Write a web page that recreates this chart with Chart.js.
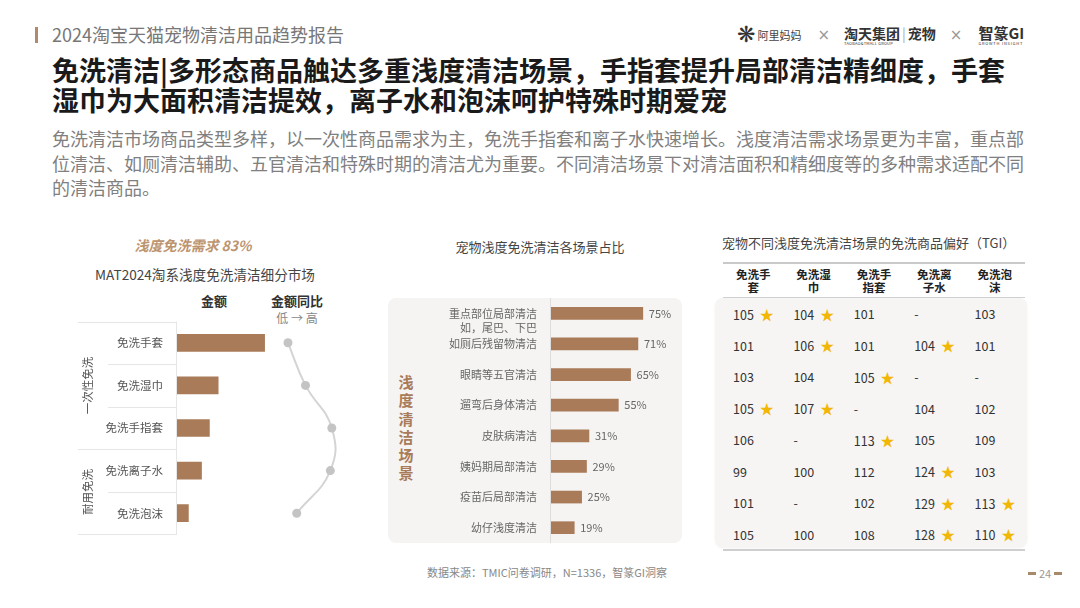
<!DOCTYPE html>
<html>
<head>
<meta charset="utf-8">
<script src="https://cdn.jsdelivr.net/npm/chart.js@4.4.1/dist/chart.umd.min.js"></script>
<style>
  html,body{margin:0;padding:0;background:#fff;}
  body{width:1080px;height:608px;position:relative;overflow:hidden;font-family:"Noto Sans CJK SC","Noto Sans",sans-serif;}
  .abs{position:absolute;white-space:nowrap;}
  #hdrbar{left:35px;top:27px;width:2.5px;height:16px;background:#b08a6a;}
  #hdr{left:52px;top:22px;font-size:18px;line-height:24px;color:#777;}
  #title{left:52px;top:55px;font-size:27px;line-height:30px;font-weight:700;color:#1a1a1a;}
  #sub{left:52px;top:126px;font-size:18px;line-height:24.5px;color:#808080;}
  .c{transform:translateX(-50%);}
  #t83{left:193px;top:236px;font-size:14px;line-height:19px;font-style:italic;font-weight:700;color:#bc946f;}
  #tmat{left:205px;top:265px;font-size:13.6px;line-height:18px;color:#444;}
  #tamt{left:214px;top:292px;font-size:13px;line-height:18px;font-weight:700;color:#333;}
  #tyoy{left:297px;top:292px;font-size:13px;line-height:18px;font-weight:700;color:#333;}
  #tlh{left:297px;top:310px;font-size:12px;line-height:16px;color:#888;}
  #tmid{left:540px;top:238px;font-size:13px;line-height:18px;color:#444;}
  #midbg{left:388px;top:298px;width:294px;height:245px;background:#f5f4f3;border-radius:8px;}
  #vlab{left:398px;top:373px;width:16px;font-size:15px;line-height:18.3px;font-weight:700;color:#a97b59;white-space:normal;word-break:break-all;text-align:center;}
  #tright{left:722px;top:234px;font-size:13px;line-height:18px;color:#444;}
  #tblbg{left:715px;top:298px;width:312px;height:249px;background:#f6f5f4;border-radius:8px;box-shadow:0 1px 3px rgba(0,0,0,0.06);}
  #ltop{left:723px;top:262px;width:302px;height:2px;background:#c9c9c9;}
  #lmid{left:723px;top:297px;width:302px;height:1px;background:#cfcfcf;}
  #lbot{left:723px;top:549px;width:302px;height:2px;background:#cfcfcf;}
  #tbl{left:723px;top:263px;width:302px;}
  .hrow{display:flex;height:35px;align-items:center;}
  .hcell{width:20%;text-align:center;font-size:11.5px;line-height:13px;font-weight:700;color:#222;}
  .brow{display:flex;height:31.5px;align-items:center;}
  .bcell{width:20%;box-sizing:border-box;padding-left:10px;font-size:12.5px;color:#333;}
  .star{color:#f2b705;font-size:14px;margin-left:6px;}
  #foot{left:427px;top:564px;font-size:11px;line-height:16px;color:#888;}
  #pg{left:1025px;top:565px;font-size:11px;line-height:16px;color:#999;display:flex;align-items:center;}
  .pgbar{display:inline-block;width:8px;height:3px;background:#a88a6a;margin:0 3px;}
  #logo{left:737px;top:24px;display:flex;align-items:center;color:#333;}
</style>
</head>
<body>
<div class="abs" id="hdrbar"></div>
<div class="abs" id="hdr">2024淘宝天猫宠物清洁用品趋势报告</div>

<div class="abs" id="logo">
  <span style="font-family:'DejaVu Sans';font-size:22px;color:#333;line-height:22px;">❋</span>
  <span style="font-size:11px;margin-left:2px;color:#444;">阿里妈妈</span>
  <span style="font-size:15px;color:#999;margin-left:16px;font-family:'DejaVu Sans';">×</span>
  <span style="display:inline-flex;flex-direction:column;margin-left:14px;align-items:flex-start;">
    <span style="font-size:14px;font-weight:700;line-height:16px;">淘天集团<span style="color:#aaa;font-weight:400;margin:0 2px;">|</span>宠物</span>
    <span style="font-size:4px;line-height:5px;letter-spacing:0.2px;">TAOBAO&amp;TMALL GROUP</span>
  </span>
  <span style="font-size:15px;color:#999;margin-left:14px;font-family:'DejaVu Sans';">×</span>
  <span style="display:inline-flex;flex-direction:column;margin-left:16px;align-items:flex-start;">
    <span style="font-size:15px;font-weight:700;line-height:17px;">智篆GI</span>
    <span style="font-size:4px;line-height:5px;letter-spacing:0.8px;">GROWTH INSIGHT</span>
  </span>
</div>

<div class="abs" id="title">免洗清洁|多形态商品触达多重浅度清洁场景，手指套提升局部清洁精细度，手套<br>湿巾为大面积清洁提效，离子水和泡沫呵护特殊时期爱宠</div>
<div class="abs" id="sub">免洗清洁市场商品类型多样，以一次性商品需求为主，免洗手指套和离子水快速增长。浅度清洁需求场景更为丰富，重点部<br>位清洁、如厕清洁辅助、五官清洁和特殊时期的清洁尤为重要。不同清洁场景下对清洁面积和精细度等的多种需求适配不同<br>的清洁商品。</div>

<!-- left panel -->
<div class="abs c" id="t83">浅度免洗需求 83%</div>
<div class="abs c" id="tmat">MAT2024淘系浅度免洗清洁细分市场</div>
<div class="abs c" id="tamt">金额</div>
<div class="abs c" id="tyoy">金额同比</div>
<div class="abs c" id="tlh">低 → 高</div>
<div class="abs" style="left:70px;top:317px;width:277px;height:222px;"><canvas id="c1" width="277" height="222"></canvas></div>

<!-- middle panel -->
<div class="abs c" id="tmid">宠物浅度免洗清洁各场景占比</div>
<div class="abs" id="midbg"></div>
<div class="abs" id="vlab">浅度清洁场景</div>
<div class="abs" style="left:388px;top:298px;width:294px;height:245px;"><canvas id="c2" width="294" height="245"></canvas></div>

<!-- right table -->
<div class="abs" id="tright">宠物不同浅度免洗清洁场景的免洗商品偏好（TGI）</div>
<div class="abs" id="tblbg"></div>
<div class="abs" id="ltop"></div>
<div class="abs" id="lmid"></div>
<div class="abs" id="lbot"></div>
<div class="abs" id="tbl"></div>

<div class="abs" id="foot">数据来源：TMIC问卷调研，N=1336，智篆GI洞察</div>
<div class="abs" id="pg"><span class="pgbar"></span>24<span class="pgbar"></span></div>

<script>
// ---------- data ----------
const segLabels = ['免洗手套','免洗湿巾','免洗手指套','免洗离子水','免洗泡沫'];
const segAmountIndex = [100, 47, 37, 28, 13];      // relative sales amount (largest = 100)
const segGrowthIndex = [1.0, 2.2, 4.0, 3.9, 1.6];  // relative YoY growth, low -> high
const groupNames = ['一次性免洗','耐用免洗'];
const groupSizes = [3, 2];

const sceneLabels = [['重点部位局部清洁','如，尾巴、下巴'],'如厕后残留物清洁','眼睛等五官清洁','遛弯后身体清洁','皮肤病清洁','姨妈期局部清洁','疫苗后局部清洁','幼仔浅度清洁'];
const sceneShare = [75, 71, 65, 55, 31, 29, 25, 19];

const tgiHeaders = [['免洗手','套'],['免洗湿','巾'],['免洗手','指套'],['免洗离','子水'],['免洗泡','沫']];
const tgiValues = [
  ['105','104','101','-','103'],
  ['101','106','101','104','101'],
  ['103','104','105','-','-'],
  ['105','107','-','104','102'],
  ['106','-','113','105','109'],
  ['99','100','112','124','103'],
  ['101','-','102','129','113'],
  ['105','100','108','128','110']
];
const tgiStars = [
  [1,1,0,0,0],
  [0,1,0,1,0],
  [0,0,1,0,0],
  [1,1,0,0,0],
  [0,0,1,0,0],
  [0,0,0,1,0],
  [0,0,0,1,1],
  [0,0,0,1,1]
];

const BROWN = '#a97b59';
const FONT = '"Noto Sans CJK SC","Noto Sans",sans-serif';

// ---------- left chart ----------
const barPxPerUnit = 0.9;      // bar axis scale
const growthPxPerUnit = 15;    // growth axis scale
const plotW = 170;
const growthOffsetPx = 114;    // where the lowest growth sits
const gMin = segGrowthIndex[0] - growthOffsetPx / growthPxPerUnit;
const gMax = gMin + plotW / growthPxPerUnit;

const leftPlugin = {
  id: 'leftDecor',
  beforeDatasetsDraw(chart) {
    const {ctx, chartArea, scales} = chart;
    const y = scales.y;
    const n = segLabels.length;
    const rowH = (chartArea.bottom - chartArea.top) / n;
    ctx.save();
    ctx.strokeStyle = '#e6e6e6';
    ctx.lineWidth = 1;
    const bounds = [0];
    groupSizes.reduce((a, s) => { bounds.push(a + s); return a + s; }, 0);
    for (let i = 0; i <= n; i++) {
      const yy = Math.round(chartArea.top + i * rowH) + (i === n ? -0.5 : 0.5);
      const full = bounds.includes(i);
      ctx.beginPath();
      ctx.moveTo(full ? 8 : 38, yy);
      ctx.lineTo(chartArea.left, yy);
      ctx.stroke();
    }
    ctx.beginPath();
    ctx.moveTo(chartArea.left - 0.5, chartArea.top);
    ctx.lineTo(chartArea.left - 0.5, chartArea.bottom);
    ctx.stroke();
    ctx.fillStyle = '#555';
    ctx.font = '11.5px ' + FONT;
    ctx.textAlign = 'right';
    ctx.textBaseline = 'middle';
    segLabels.forEach((l, i) => ctx.fillText(l, chartArea.left - 14, y.getPixelForValue(i)));
    let start = 0;
    groupNames.forEach((g, gi) => {
      const end = start + groupSizes[gi] - 1;
      const cy = (y.getPixelForValue(start) + y.getPixelForValue(end)) / 2;
      ctx.save();
      ctx.translate(18, cy);
      ctx.rotate(-Math.PI / 2);
      ctx.textAlign = 'center';
      ctx.fillText(g, 0, 0);
      ctx.restore();
      start = end + 1;
    });
    ctx.restore();
  }
};

new Chart(document.getElementById('c1'), {
  type: 'bar',
  data: {
    labels: segLabels,
    datasets: [
      {type: 'bar', data: segAmountIndex, xAxisID: 'x', backgroundColor: BROWN, barThickness: 17, order: 2},
      {type: 'line', data: segGrowthIndex, xAxisID: 'x2', borderColor: '#d4d4d4', borderWidth: 2,
       pointRadius: 4.5, pointBackgroundColor: '#c4c4c4', pointBorderWidth: 0, tension: 0.45, clip: false, order: 1}
    ]
  },
  options: {
    indexAxis: 'y', responsive: false, animation: false,
    layout: {padding: {left: 107, right: 0, top: 1, bottom: 1}},
    plugins: {legend: {display: false}, tooltip: {enabled: false}},
    scales: {
      x: {display: false, min: 0, max: plotW / barPxPerUnit},
      x2: {display: false, min: gMin, max: gMax, position: 'top'},
      y: {display: false}
    }
  },
  plugins: [leftPlugin]
});

// ---------- middle chart ----------
const midPlugin = {
  id: 'midDecor',
  afterDatasetsDraw(chart) {
    const {ctx, chartArea, scales} = chart;
    ctx.save();
    ctx.strokeStyle = '#dddddd';
    ctx.lineWidth = 1;
    ctx.beginPath();
    ctx.moveTo(chartArea.left - 0.5, chartArea.top);
    ctx.lineTo(chartArea.left - 0.5, chartArea.bottom);
    ctx.stroke();
    ctx.font = '11px ' + FONT;
    ctx.textBaseline = 'middle';
    ctx.fillStyle = '#666';
    ctx.textAlign = 'right';
    sceneLabels.forEach((l, i) => {
      const yy = scales.y.getPixelForValue(i);
      const lines = Array.isArray(l) ? l : [l];
      lines.forEach((t, k) => ctx.fillText(t, chartArea.left - 14, yy + k * 14));
    });
    ctx.textAlign = 'left';
    chart.getDatasetMeta(0).data.forEach((bar, i) => {
      ctx.fillText(sceneShare[i] + '%', bar.x + 6, bar.y);
    });
    ctx.restore();
  }
};

new Chart(document.getElementById('c2'), {
  type: 'bar',
  data: {labels: sceneLabels, datasets: [{data: sceneShare, backgroundColor: BROWN, barThickness: 12}]},
  options: {
    indexAxis: 'y', responsive: false, animation: false,
    layout: {padding: {left: 163, right: 0, top: 0, bottom: 0}},
    plugins: {legend: {display: false}, tooltip: {enabled: false}},
    scales: {x: {display: false, min: 0, max: 107}, y: {display: false}}
  },
  plugins: [midPlugin]
});

// ---------- right table ----------
const tbl = document.getElementById('tbl');
let html = '<div class="hrow">' + tgiHeaders.map(h => '<div class="hcell">' + h.join('<br>') + '</div>').join('') + '</div>';
tgiValues.forEach((row, r) => {
  html += '<div class="brow">' + row.map((v, c) =>
    '<div class="bcell">' + v + (tgiStars[r][c] ? '<span class="star">★</span>' : '') + '</div>').join('') + '</div>';
});
tbl.innerHTML = html;
</script>
</body>
</html>
